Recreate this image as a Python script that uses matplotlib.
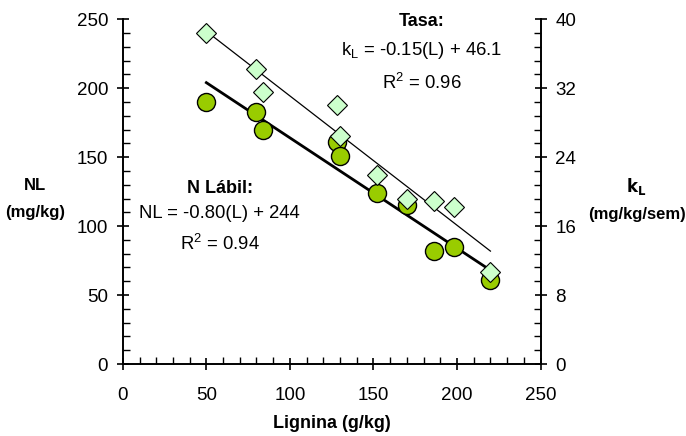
import numpy as np
import matplotlib
matplotlib.use("Agg")
import matplotlib.pyplot as plt
from matplotlib.ticker import MultipleLocator

plt.rcParams['font.family'] = ['Liberation Sans', 'DejaVu Sans']

# lignina (g/kg)
lignina = [50, 80, 84, 128, 130, 152, 170, 186, 198, 220]
# N labil (mg/kg), left axis
n_labil = [190, 183, 170, 161, 151, 124, 115, 82, 85, 61]
# tasa kL (mg/kg/sem), right axis
k_l = [38.4, 34.2, 31.5, 30.1, 26.4, 21.9, 19.2, 18.9, 18.2, 10.7]

# fitted lines
fit_x = [50, 220]
nl_fit = [-0.80 * x + 244 for x in fit_x]
kl_fit = [-0.15 * x + 46.1 for x in fit_x]

fig = plt.figure(figsize=(6.86, 4.36), dpi=100)
ax = fig.add_axes([0.179, 0.165, 0.609, 0.791])
ax2 = ax.twinx()

ax.plot(fit_x, nl_fit, color='black', lw=2, zorder=2)
ax.plot(lignina, n_labil, 'o', ms=13, mfc='#99cc00', mec='black', mew=1, zorder=3)
ax2.plot(fit_x, kl_fit, color='black', lw=0.9, zorder=2)
ax2.plot(lignina, k_l, 'D', ms=10, mfc='#ccffcc', mec='black', mew=0.8, zorder=3)

ax.set_xlim(0, 250)
ax.set_ylim(0, 250)
ax2.set_ylim(0, 40)
ax.xaxis.set_major_locator(MultipleLocator(50))
ax.xaxis.set_minor_locator(MultipleLocator(10))
ax.yaxis.set_major_locator(MultipleLocator(50))
ax.yaxis.set_minor_locator(MultipleLocator(10))
ax2.yaxis.set_major_locator(MultipleLocator(8))
ax2.yaxis.set_minor_locator(MultipleLocator(1.6))

for a in (ax, ax2):
    a.spines['top'].set_visible(False)
    for s in a.spines.values():
        s.set_linewidth(1.2)
    a.tick_params(which='major', direction='inout', length=9, width=1.2, labelsize=13.5)
    a.tick_params(which='minor', direction='in', length=5, width=1)
ax.tick_params(axis='x', pad=12)
ax.tick_params(axis='y', pad=6)
ax2.tick_params(axis='y', pad=6)

ax.set_xlabel('Lignina (g/kg)', fontsize=13, fontweight='bold', labelpad=8)
fig.text(0.051, 0.544, 'NL\n(mg/kg)', ha='center', va='center', fontsize=12,
         fontweight='bold', linespacing=2.0)
fig.text(0.928, 0.544, r'$\mathbf{k_L}$' + '\n(mg/kg/sem)', ha='center', va='center',
         fontsize=12, fontweight='bold', linespacing=1.8)

ax.text(179, 248, 'Tasa:', ha='center', va='center', fontsize=13, fontweight='bold')
ax.text(179, 227, r'k$_\mathregular{L}$ = -0.15(L) + 46.1', ha='center', va='center', fontsize=13.3)
ax.text(179, 204, r'R$^\mathregular{2}$ = 0.96', ha='center', va='center', fontsize=13.3)

ax.text(58, 127, 'N Lábil:', ha='center', va='center', fontsize=13, fontweight='bold')
ax.text(58, 109, 'NL = -0.80(L) + 244', ha='center', va='center', fontsize=13.3)
ax.text(58, 87, r'R$^\mathregular{2}$ = 0.94', ha='center', va='center', fontsize=13.3)

fig.savefig('out.png', dpi=100)
